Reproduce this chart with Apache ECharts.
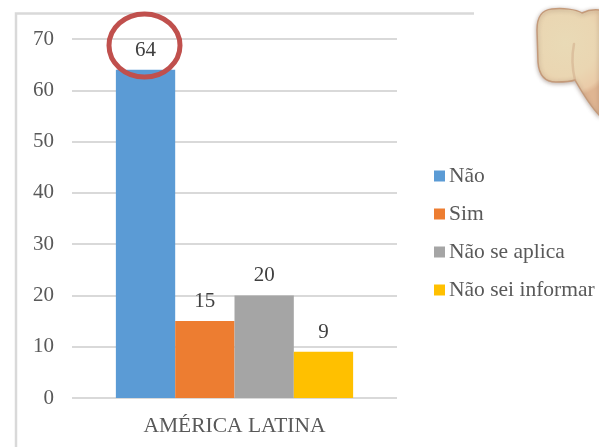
<!DOCTYPE html>
<html><head><meta charset="utf-8">
<style>html,body{margin:0;padding:0;background:#fff}#c{width:599px;height:447px;filter:blur(0.45px)}</style>
<script src="https://cdn.jsdelivr.net/npm/echarts@6/dist/echarts.min.js"></script></head>
<body><div id="c"></div>
<script>
const categories = ["AMÉRICA LATINA"];
const seriesNames = ["Não", "Sim", "Não se aplica", "Não sei informar"];
const valNao = [64];
const valSim = [15];
const valAplica = [20];
const valInformar = [9];
const seriesColors = ["#5B9BD5", "#ED7D31", "#A5A5A5", "#FFC000"];
const allValues = [valNao, valSim, valAplica, valInformar];
const FONT = '"Liberation Serif", serif';
echarts.graphic.registerShape('handShape', echarts.graphic.extendPath('M600 10 C592 9 586 11 582 13 C576 9 562 8 552 9 C541 10 537 17 537 30 L538 62 C539 76 545 82 556 82 C563 82 570 82 575 80 C583 94 592 108 600 116 Z', {}));
echarts.graphic.registerShape('handCrease', echarts.graphic.extendPath('M574 44 C572 54 571 64 575 80', {}));
const chart = echarts.init(document.getElementById('c'), null, {renderer:'canvas'});
chart.setOption({
  animation:false,
  backgroundColor:'#fff',
  grid:{left:72,right:202,top:39,bottom:49,containLabel:false},
  xAxis:{type:'category',data:categories,
    axisLine:{show:false},axisTick:{show:false},
    axisLabel:{color:'#595959',fontFamily:FONT,fontSize:21.5,margin:17}},
  yAxis:{type:'value',min:0,max:70,interval:10,
    axisLine:{show:false},axisTick:{show:false},
    axisLabel:{color:'#595959',fontFamily:FONT,fontSize:21,margin:18,padding:[4,0,0,0]},
    splitLine:{lineStyle:{color:'#D9D9D9',width:2}}},
  legend:{orient:'vertical',left:429,top:160,itemWidth:11,itemHeight:11,itemGap:16,
    icon:'rect',
    textStyle:{color:'#595959',fontFamily:FONT,fontSize:21.5,padding:[0,0,0,-1]},
    data:seriesNames},
  series:seriesNames.map((n,i)=>({
    name:n,type:'bar',data:allValues[i],barGap:0,barCategoryGap:'27%',
    itemStyle:{color:seriesColors[i]},
    label:{show:true,position:'top',distance:9,color:'#404040',fontFamily:FONT,fontSize:21}
  })),
  graphic:[
    {type:'polyline',z:0,silent:true,shape:{points:[[16,447],[16,13.5],[474,13.5]]},
     style:{stroke:'#D9D9D9',lineWidth:2.5,fill:null}},
    {type:'ellipse',z:100,silent:true,shape:{cx:144.5,cy:45.5,rx:35.5,ry:31.5},
     style:{stroke:'#C0504D',lineWidth:5,fill:null}},
    {type:'handShape',z:90,silent:true,
     style:{fill:{type:'radial',x:0.45,y:0.32,r:0.85,colorStops:[{offset:0,color:'#E9DAB6'},{offset:.6,color:'#EAD6B2'},{offset:.9,color:'#EACBA8'},{offset:1,color:'#DFB592'}]},
       stroke:'#C49A7A',lineWidth:1.5,shadowColor:'rgba(110,85,70,.45)',shadowBlur:4,shadowOffsetY:1}},
    {type:'handCrease',z:91,silent:true,
     style:{stroke:'rgba(205,165,130,.45)',lineWidth:2.5,fill:null,lineCap:'round'}}
  ]
});
</script></body></html>
